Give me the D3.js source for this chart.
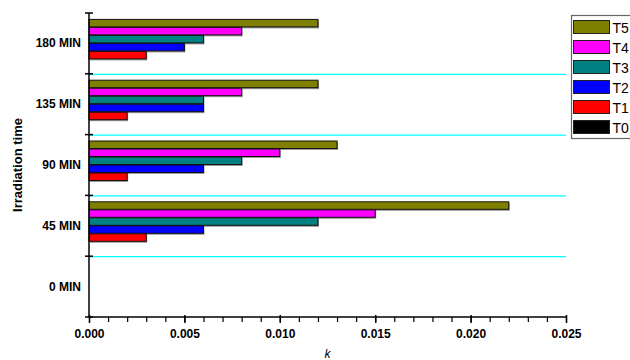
<!DOCTYPE html>
<html>
<head>
<meta charset="utf-8">
<script src="https://cdn.jsdelivr.net/npm/d3@7"></script>
<style>
  html, body { margin: 0; padding: 0; background: #fff; }
  svg { display: block; font-family: Arial, "Liberation Sans", sans-serif; }
</style>
</head>
<body>
<svg id="chart" width="630" height="360"></svg>
<script>
// Irradiation times (top to bottom) and rate constant k per treatment
const categories = ["180 MIN", "135 MIN", "90 MIN", "45 MIN", "0 MIN"];
const seriesNames = ["T5", "T4", "T3", "T2", "T1", "T0"];
const seriesColors = ["#808000", "#FF00FF", "#008080", "#0000FF", "#FF0000", "#000000"];
const T5 = [0.012, 0.012, 0.013, 0.022, 0];
const T4 = [0.008, 0.008, 0.010, 0.015, 0];
const T3 = [0.006, 0.006, 0.008, 0.012, 0];
const T2 = [0.005, 0.006, 0.006, 0.006, 0];
const T1 = [0.003, 0.002, 0.002, 0.003, 0];
const T0 = [0, 0, 0, 0, 0];
const seriesValues = [T5, T4, T3, T2, T1, T0];
const xTicks = [0.000, 0.005, 0.010, 0.015, 0.020, 0.025];

const svg = d3.select("#chart");
const plotLeft = 89, plotRight = 566, plotTop = 13, plotBottom = 317;

const x = d3.scaleLinear().domain([0, 0.025]).range([plotLeft, plotRight]);
const y = d3.scaleBand().domain(categories).range([plotTop, plotBottom]).padding(0);
const ySub = d3.scaleBand().domain(seriesNames).range([0, y.bandwidth()])
  .paddingInner(0).paddingOuter(0.8);

// cyan separators between time groups
svg.append("g").selectAll("line")
  .data(categories.slice(1))
  .join("line")
  .attr("x1", plotLeft).attr("x2", plotRight)
  .attr("y1", d => y(d) + 0.5).attr("y2", d => y(d) + 0.5)
  .attr("stroke", "#00FFFF").attr("stroke-width", 1.2);

// bars
const rows = [];
categories.forEach((c, i) => {
  seriesNames.forEach((s, j) => rows.push({ cat: c, series: s, color: seriesColors[j], value: seriesValues[j][i] }));
});
const barG = svg.append("g");
const nonZero = rows.filter(d => d.value > 0);
barG.selectAll("rect.shadow")
  .data(nonZero)
  .join("rect")
  .attr("class", "shadow")
  .attr("x", plotLeft + 1)
  .attr("y", d => y(d.cat) + ySub(d.series) + 1)
  .attr("width", d => x(d.value) - plotLeft)
  .attr("height", ySub.bandwidth())
  .attr("fill", "#999");
barG.selectAll("rect.bar")
  .data(nonZero)
  .join("rect")
  .attr("class", "bar")
  .attr("x", plotLeft)
  .attr("y", d => y(d.cat) + ySub(d.series))
  .attr("width", d => x(d.value) - plotLeft)
  .attr("height", ySub.bandwidth() - 0.5)
  .attr("fill", d => d.color)
  .attr("stroke", "#111")
  .attr("stroke-width", 1);

// x axis: major every 0.005, minor every 0.001
const xMinor = svg.append("g").attr("transform", `translate(0,${plotBottom})`);
xMinor.call(d3.axisBottom(x).tickValues(d3.range(0, 0.02501, 0.001)).tickSize(5).tickFormat(""))
  .call(g => g.select(".domain").remove());
xMinor.selectAll(".tick line").attr("stroke", "#000").attr("stroke-width", 1.2);
const xMajor = svg.append("g").attr("transform", `translate(0,${plotBottom})`);
xMajor.call(d3.axisBottom(x).tickValues(xTicks).tickSize(6).tickPadding(6).tickFormat(d3.format(".3f")))
  .call(g => g.select(".domain").remove());
xMajor.selectAll(".tick line").attr("stroke", "#000").attr("stroke-width", 1.5).attr("y1", -2);
xMajor.selectAll(".tick text").attr("font-size", 12).attr("font-weight", "bold").attr("fill", "#000")
  .attr("font-family", "Arial, 'Liberation Sans', sans-serif");
svg.append("line").attr("x1", plotLeft).attr("x2", plotRight).attr("y1", plotBottom).attr("y2", plotBottom)
  .attr("stroke", "#000").attr("stroke-width", 1.5);

// y axis: ticks at group boundaries, labels centred in each group
svg.append("line").attr("x1", plotLeft).attr("x2", plotLeft).attr("y1", plotTop).attr("y2", plotBottom)
  .attr("stroke", "#000").attr("stroke-width", 1.5);
const bounds = categories.map(c => y(c)).concat([plotBottom]);
svg.append("g").selectAll("line")
  .data(bounds)
  .join("line")
  .attr("x1", plotLeft - 4).attr("x2", plotLeft + 4)
  .attr("y1", d => d).attr("y2", d => d)
  .attr("stroke", "#000").attr("stroke-width", 1.5);
svg.append("g").selectAll("text")
  .data(categories)
  .join("text")
  .attr("x", 81)
  .attr("y", d => y(d) + y.bandwidth() / 2 + 4)
  .attr("text-anchor", "end")
  .attr("font-size", 12).attr("font-weight", "bold")
  .text(d => d);

// axis titles
svg.append("text")
  .attr("transform", `translate(22,${(plotTop + plotBottom) / 2}) rotate(-90)`)
  .attr("text-anchor", "middle")
  .attr("font-size", 13).attr("font-weight", "bold")
  .text("Irradiation time");
svg.append("text")
  .attr("x", (plotLeft + plotRight) / 2)
  .attr("y", 358)
  .attr("text-anchor", "middle")
  .attr("font-size", 12).attr("font-style", "italic")
  .text("k");

// legend
const lg = svg.append("g");
lg.append("rect").attr("x", 571.5).attr("y", 15.5).attr("width", 70).attr("height", 123)
  .attr("fill", "#fff").attr("stroke", "#666").attr("stroke-width", 1.2);
const items = lg.selectAll("g.item")
  .data(seriesNames.map((s, j) => ({ s, c: seriesColors[j] })))
  .join("g")
  .attr("transform", (d, i) => `translate(0,${20 + i * 20})`);
items.append("rect").attr("x", 573.5).attr("y", 0.5).attr("width", 36).attr("height", 13)
  .attr("fill", d => d.c).attr("stroke", "#222").attr("stroke-width", 1);
items.append("text").attr("x", 612.5).attr("y", 12.5)
  .attr("font-size", 14).text(d => d.s);
</script>
</body>
</html>
